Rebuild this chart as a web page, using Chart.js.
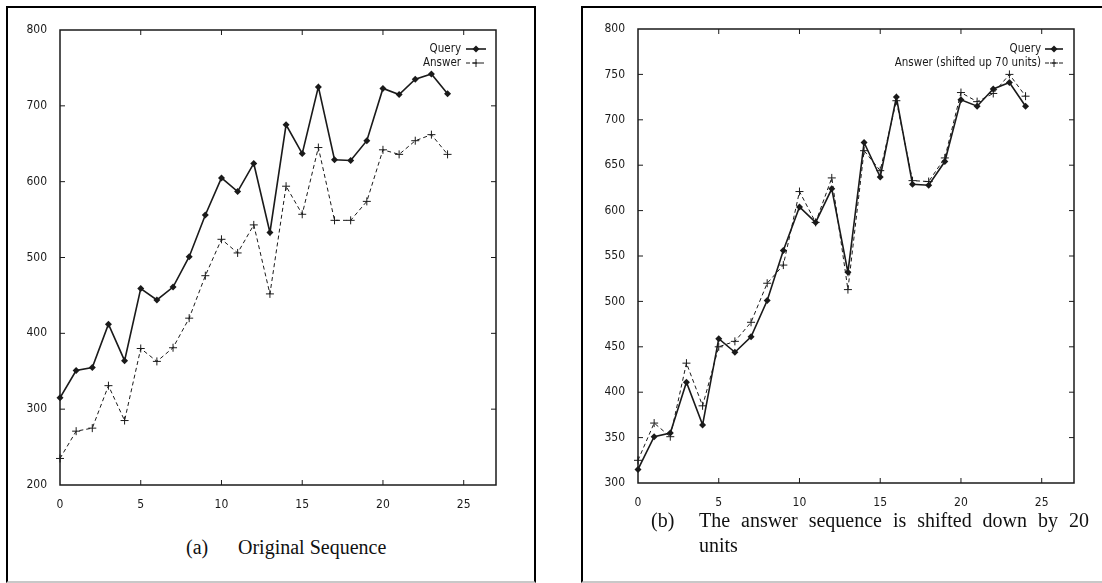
<!DOCTYPE html>
<html>
<head>
<meta charset="utf-8">
<script src="https://cdn.jsdelivr.net/npm/chart.js@4/dist/chart.umd.min.js"></script>
<style>
  html, body { margin: 0; padding: 0; background: #fff; }
  body { width: 1102px; height: 583px; position: relative; overflow: hidden; }
  .box { position: absolute; top: 6px; border: 2px solid #000; border-bottom: 2px solid #c8c8c8; box-sizing: border-box; height: 577px; }
  #boxA { left: 6px; width: 530px; }
  #boxB { left: 581px; width: 540px; }
  canvas { position: absolute; top: 0; }
  #chartA { left: 0; }
  #chartB { left: 580px; }
  .cap { position: absolute; font-family: 'Liberation Serif', 'Times New Roman', serif; font-size: 20px; line-height: 25px; color: #111; }
  #capA1 { left: 186px; top: 535px; }
  #capA2 { left: 238px; top: 535px; }
  #capB1 { left: 651px; top: 508px; }
  #capB2 { left: 699px; top: 508px; width: 390px; text-align: justify; text-align-last: left; }
</style>
</head>
<body>
<div class="box" id="boxA"></div>
<div class="box" id="boxB"></div>
<canvas id="chartA" width="540" height="510"></canvas>
<canvas id="chartB" width="522" height="510"></canvas>
<div class="cap" id="capA1">(a)</div>
<div class="cap" id="capA2">Original Sequence</div>
<div class="cap" id="capB1">(b)</div>
<div class="cap" id="capB2">The answer sequence is shifted down by 20 units</div>

<script>
/* ===== DATA ===== */
const steps   = [0, 1, 2, 3, 4, 5, 6, 7, 8, 9, 10, 11, 12, 13, 14, 15, 16, 17, 18, 19, 20, 21, 22, 23, 24];
const xTicks  = [0, 5, 10, 15, 20, 25];

// (a) original sequence
const queryA  = [315, 351, 355, 412, 364, 459, 444, 461, 501, 556, 605, 587, 624, 533, 675, 637, 725, 629, 628, 654, 723, 715, 735, 742, 716];
const answerA = [235, 271, 275, 331, 285, 380, 363, 381, 420, 476, 524, 506, 543, 452, 594, 557, 645, 549, 549, 574, 642, 636, 654, 662, 636];

// (b) shifted answer
const queryB  = [315, 351, 355, 411, 364, 459, 444, 461, 501, 556, 604, 587, 624, 532, 675, 637, 725, 629, 628, 654, 722, 715, 734, 741, 715];
const answerB = [325, 366, 351, 432, 385, 450, 456, 477, 520, 540, 621, 587, 636, 513, 666, 644, 721, 633, 632, 658, 730, 720, 729, 750, 726];

const labelsA = ['Query', 'Answer'];
const labelsB = ['Query', 'Answer (shifted up 70 units)'];

const TICK_FONT = "'Liberation Sans Narrow', 'DejaVu Sans Condensed', 'Liberation Sans', sans-serif";
const INK = '#1a1a1a';

function toPoints(values) {
  return values.map((v, i) => ({ x: steps[i], y: v }));
}

// Gnuplot-ish frame: box all round, ticks pointing inwards on all four sides
const framePlugin = {
  id: 'frame',
  afterDraw(chart) {
    const { ctx, chartArea: a, scales } = chart;
    ctx.save();
    ctx.strokeStyle = INK;
    ctx.lineWidth = 1.5;
    ctx.strokeRect(a.left, a.top, a.right - a.left, a.bottom - a.top);
    ctx.lineWidth = 1;
    const len = 5;
    scales.x.ticks.forEach(t => {
      const px = scales.x.getPixelForValue(t.value);
      if (px <= a.left + 1 || px >= a.right - 1) return;
      ctx.beginPath();
      ctx.moveTo(px, a.bottom); ctx.lineTo(px, a.bottom - len);
      ctx.moveTo(px, a.top);    ctx.lineTo(px, a.top + len);
      ctx.stroke();
    });
    scales.y.ticks.forEach(t => {
      const py = scales.y.getPixelForValue(t.value);
      if (py <= a.top + 1 || py >= a.bottom - 1) return;
      ctx.beginPath();
      ctx.moveTo(a.left, py);  ctx.lineTo(a.left + len, py);
      ctx.moveTo(a.right, py); ctx.lineTo(a.right - len, py);
      ctx.stroke();
    });
    ctx.restore();
  }
};

function drawMarker(ctx, style, x, y, r) {
  ctx.beginPath();
  if (style === 'rectRot') {
    ctx.moveTo(x, y - r); ctx.lineTo(x + r, y); ctx.lineTo(x, y + r); ctx.lineTo(x - r, y);
    ctx.closePath();
    ctx.fill();
  } else {
    ctx.moveTo(x - r, y); ctx.lineTo(x + r, y);
    ctx.moveTo(x, y - r); ctx.lineTo(x, y + r);
    ctx.stroke();
  }
}

// Key in the top right corner: text first, then the line sample with its marker
const keyPlugin = {
  id: 'key',
  afterDraw(chart, args, opts) {
    const { ctx, chartArea: a } = chart;
    ctx.save();
    ctx.font = '11.5px ' + TICK_FONT;
    ctx.textAlign = 'right';
    ctx.textBaseline = 'middle';
    chart.data.datasets.forEach((ds, i) => {
      const y = a.top + opts.rowTop + i * 14;
      ctx.fillStyle = INK;
      ctx.fillText(ds.label, a.right - opts.textRight, y);
      const x1 = a.right - opts.sampleLeft, x2 = a.right - opts.sampleRight;
      ctx.strokeStyle = INK;
      ctx.lineWidth = ds.borderWidth;
      ctx.setLineDash(ds.borderDash || []);
      ctx.beginPath(); ctx.moveTo(x1, y); ctx.lineTo(x2, y); ctx.stroke();
      ctx.setLineDash([]);
      ctx.lineWidth = 1;
      drawMarker(ctx, ds.pointStyle, (x1 + x2) / 2, y, ds.pointStyle === 'cross' ? 4 : 3.5);
    });
    ctx.restore();
  }
};

// Custom markers so both series are drawn like the scan
const markerPlugin = {
  id: 'markers',
  afterDatasetsDraw(chart) {
    const { ctx } = chart;
    ctx.save();
    ctx.fillStyle = INK;
    ctx.strokeStyle = INK;
    ctx.lineWidth = 1;
    chart.data.datasets.forEach((ds, i) => {
      chart.getDatasetMeta(i).data.forEach(pt => {
        drawMarker(ctx, ds.pointStyle, pt.x, pt.y, ds.pointStyle === 'cross' ? 4 : 3.5);
      });
    });
    ctx.restore();
  }
};

function makeChart(id, query, answer, labels, cfg) {
  return new Chart(document.getElementById(id), {
    type: 'line',
    data: {
      datasets: [
        {
          label: labels[0],
          data: toPoints(query),
          borderColor: INK,
          borderWidth: 1.6,
          pointStyle: 'rectRot',
          pointRadius: 0,
          tension: 0,
        },
        {
          label: labels[1],
          data: toPoints(answer),
          borderColor: INK,
          borderWidth: 1,
          borderDash: [4, 3],
          pointStyle: 'cross',
          pointRadius: 0,
          tension: 0,
        },
      ],
    },
    options: {
      responsive: false,
      animation: false,
      devicePixelRatio: 1,
      layout: { padding: { left: 0, top: cfg.top, right: cfg.right, bottom: 0 } },
      scales: {
        x: {
          type: 'linear',
          min: 0,
          max: 27,
          afterBuildTicks: s => { s.ticks = xTicks.map(v => ({ value: v })); },
          afterFit: s => { s.height = cfg.xHeight; },
          grid: { display: false },
          border: { display: false },
          ticks: {
            padding: 5,
            color: INK,
            font: { family: TICK_FONT, size: 12 },
            maxRotation: 0,
          },
        },
        y: {
          min: cfg.yMin,
          max: 800,
          afterFit: s => { s.width = cfg.yWidth; },
          grid: { display: false },
          border: { display: false },
          ticks: {
            stepSize: cfg.yStep,
            padding: 5,
            color: INK,
            font: { family: TICK_FONT, size: 12 },
          },
        },
      },
      plugins: {
        legend: { display: false },
        tooltip: { enabled: false },
        key: cfg.key,
      },
    },
    plugins: [framePlugin, markerPlugin, keyPlugin],
  });
}

makeChart('chartA', queryA, answerA, labelsA, {
  top: 30, right: 44, xHeight: 25, yWidth: 60, yMin: 200, yStep: 100,
  key: { rowTop: 19, textRight: 35, sampleLeft: 30, sampleRight: 10 },
});

makeChart('chartB', queryB, answerB, labelsB, {
  top: 29, right: 28, xHeight: 27, yWidth: 58, yMin: 300, yStep: 50,
  key: { rowTop: 20, textRight: 33, sampleLeft: 29, sampleRight: 11 },
});
</script>
</body>
</html>
